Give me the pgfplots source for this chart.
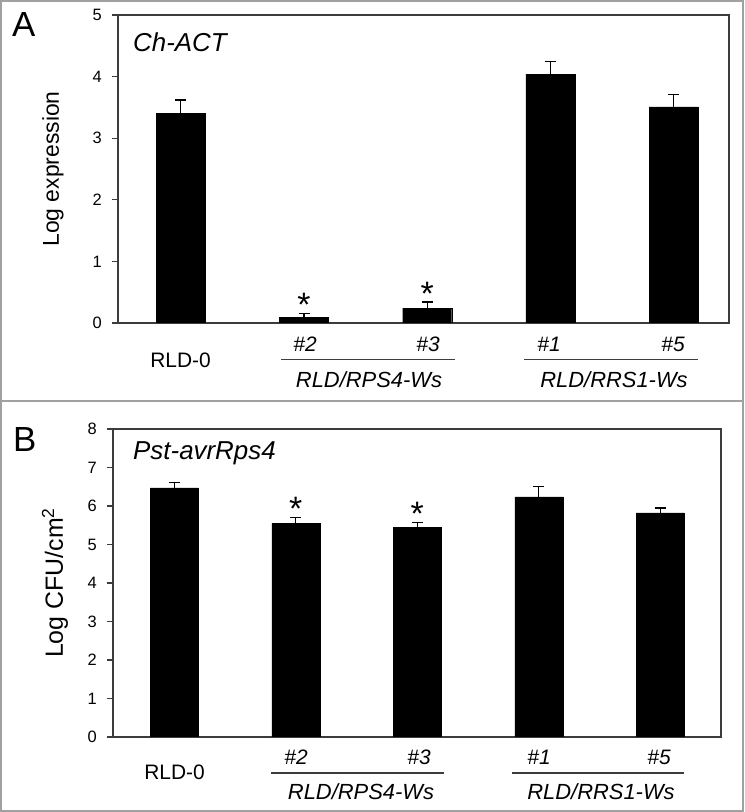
\documentclass[border=0pt]{standalone}
\usepackage{fontspec}
\setmainfont{Liberation Sans}
\usepackage{pgfplots}
\pgfplotsset{compat=1.18}
\definecolor{framegray}{RGB}{160,160,160}
\definecolor{linegray}{RGB}{60,60,60}
\newcommand{\fs}[1]{\fontsize{#1}{#1}\selectfont}
\pgfplotsset{
  panel/.style={
    scale only axis,
    ymin=0,
    xtick=\empty,
    ytick pos=left,
    tick align=outside,
    major tick length=6bp,
    axis line style={line width=1.2bp, linegray},
    every tick/.style={line width=1.2bp, linegray},
    /pgf/number format/assume math mode=true,
    yticklabel style={font=\fs{16.5}, inner sep=0pt, xshift=-10bp},
    ylabel style={at={(rel axis cs:0,0.5)}, anchor=center},
  },
  bars/.style={
    ybar, bar width=#1, fill=black, draw=black,
    error bars/.cd, y dir=plus, y explicit,
    error bar style={line width=1.2bp, black},
    error mark options={rotate=90, line width=1.2bp, mark size=5.5bp, black},
  },
  stars/.style={
    draw=none, mark=none,
    nodes near coords={\fs{34}*},
    nodes near coords style={anchor=base, inner sep=0pt, yshift=-3bp},
  },
}
\begin{document}
\begin{tikzpicture}[x=1bp, y=1bp]
\useasboundingbox (0,0) rectangle (745,812);
\draw[framegray, line width=1.5bp] (1,1) rectangle (743,811);
\draw[framegray, line width=1.5bp] (1,411) -- (743,411);

% ---------- Panel A ----------
\begin{axis}[panel, at={(118bp,489bp)}, anchor=south west,
  width=611bp, height=308bp, xmin=-0.51, xmax=4.45, ymax=5,
  ytick={0,1,2,3,4,5},
  ylabel={Log expression}, ylabel style={font=\fs{23}, yshift=65bp}]
\addplot[bars=49bp] coordinates {
  (0,3.40) +- (0,0.22)
  (1,0.09) +- (0,0.06)
  (2,0.24) +- (0,0.10)
  (3,4.04) +- (0,0.20)
  (4,3.51) +- (0,0.20)
};
\addplot[stars] coordinates {(1,0.15) (2,0.34)};
\end{axis}

\node[anchor=base west, font=\fs{35}, inner sep=0pt] at (12,775) {A};
\node[anchor=base west, font=\fs{26}\itshape, inner sep=0pt] at (133,760) {Ch-ACT};
\node[anchor=base, font=\fs{21}, inner sep=0pt] at (180.5,444) {RLD-0};
\node[anchor=base, font=\fs{21}\itshape, inner sep=0pt] at (305,460) {\#2};
\node[anchor=base, font=\fs{21}\itshape, inner sep=0pt] at (428,460) {\#3};
\node[anchor=base, font=\fs{21}\itshape, inner sep=0pt] at (549,460) {\#1};
\node[anchor=base, font=\fs{21}\itshape, inner sep=0pt] at (673,460) {\#5};
\draw[linegray, line width=1.2bp] (281,452.5) -- (455,452.5);
\draw[linegray, line width=1.2bp] (524,452.5) -- (698,452.5);
\node[anchor=base, font=\fs{22}\itshape, inner sep=0pt] at (369,424) {RLD/RPS4-Ws};
\node[anchor=base, font=\fs{22}\itshape, inner sep=0pt] at (614,424) {RLD/RRS1-Ws};

% ---------- Panel B ----------
\begin{axis}[panel, at={(113bp,75bp)}, anchor=south west,
  width=608bp, height=308bp, xmin=-0.505, xmax=4.5, ymax=8,
  ytick={0,1,2,3,4,5,6,7,8},
  ylabel={Log CFU/cm\textsuperscript{2}}, ylabel style={font=\fs{25}, yshift=58bp}]
\addplot[bars=48bp] coordinates {
  (0,6.47) +- (0,0.15)
  (1,5.55) +- (0,0.16)
  (2,5.45) +- (0,0.12)
  (3,6.24) +- (0,0.27)
  (4,5.82) +- (0,0.13)
};
\addplot[stars] coordinates {(1,5.71) (2,5.57)};
\end{axis}

\node[anchor=base west, font=\fs{35}, inner sep=0pt] at (13,360) {B};
\node[anchor=base west, font=\fs{26}\itshape, inner sep=0pt] at (133,352) {Pst-avrRps4};
\node[anchor=base, font=\fs{21}, inner sep=0pt] at (174.5,32) {RLD-0};
\node[anchor=base, font=\fs{21}\itshape, inner sep=0pt] at (296,47) {\#2};
\node[anchor=base, font=\fs{21}\itshape, inner sep=0pt] at (419,47) {\#3};
\node[anchor=base, font=\fs{21}\itshape, inner sep=0pt] at (539,47) {\#1};
\node[anchor=base, font=\fs{21}\itshape, inner sep=0pt] at (659,47) {\#5};
\draw[linegray, line width=1.2bp] (271,39) -- (444,39);
\draw[linegray, line width=1.2bp] (512,39) -- (684,39);
\node[anchor=base, font=\fs{22}\itshape, inner sep=0pt] at (361,12) {RLD/RPS4-Ws};
\node[anchor=base, font=\fs{22}\itshape, inner sep=0pt] at (601,12) {RLD/RRS1-Ws};
\end{tikzpicture}
\end{document}
